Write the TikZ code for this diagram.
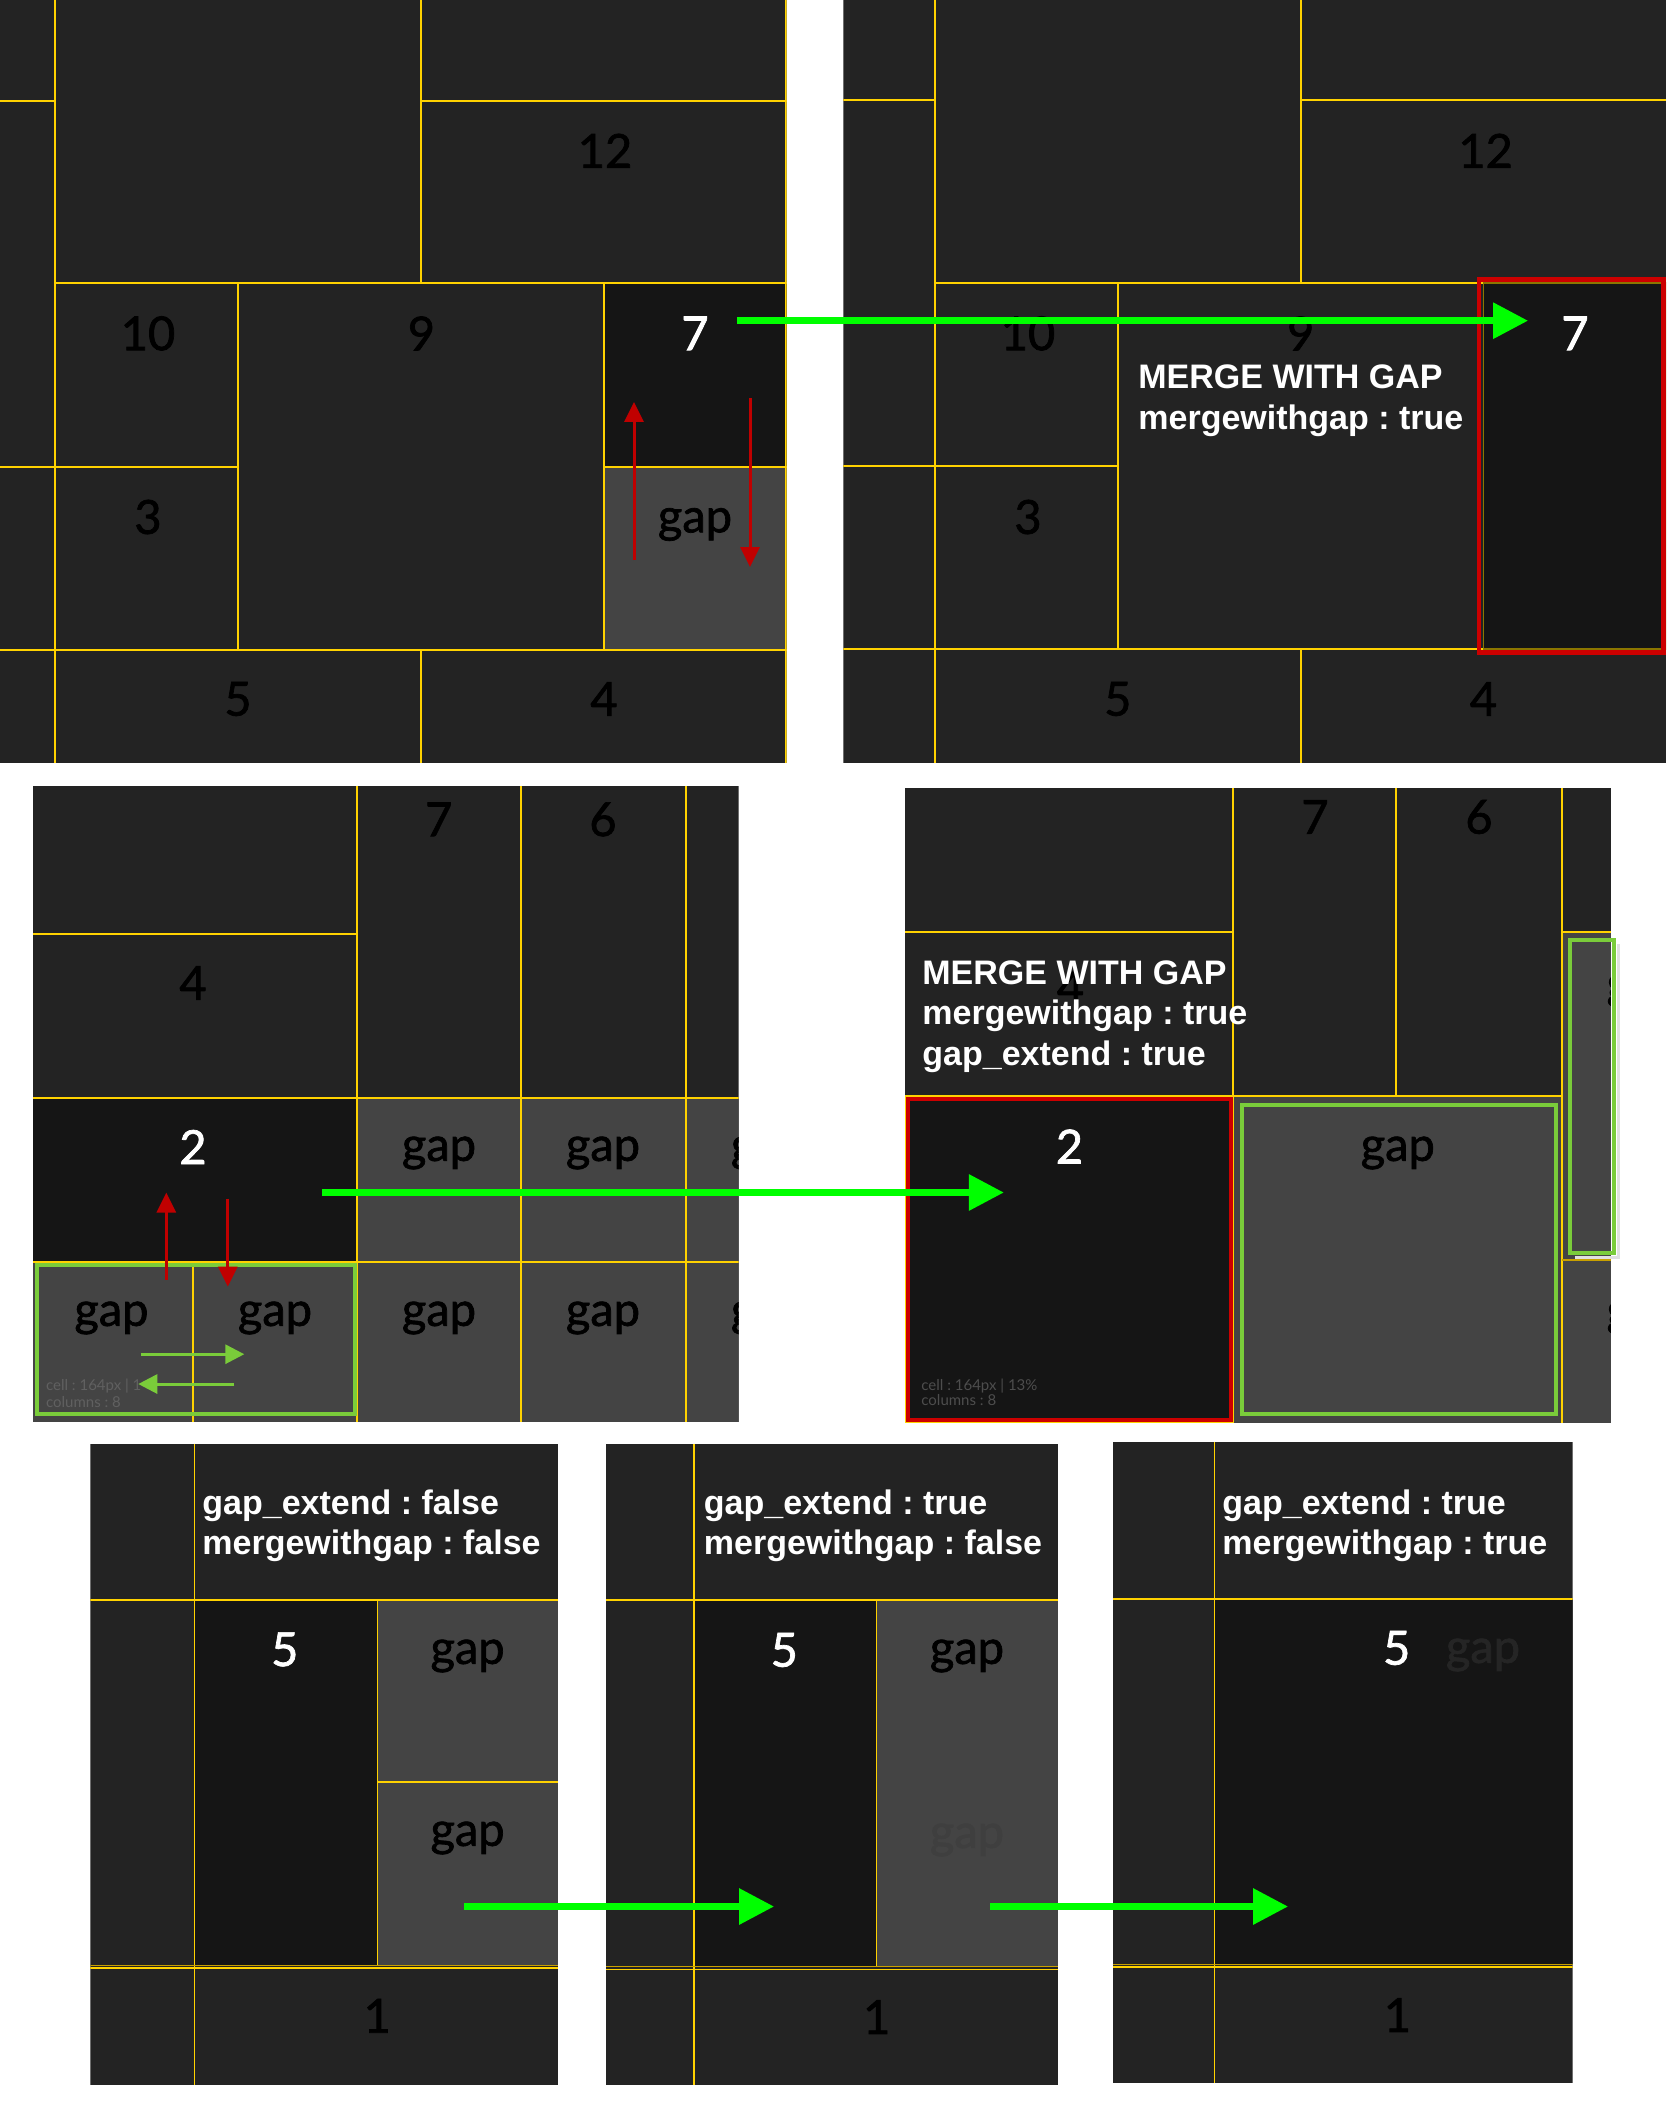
\documentclass[tikz,border=0pt]{standalone}
\usepackage{fontspec}
\newfontfamily\lato{Lato}[FakeBold=1.5]
\newfontfamily\latol{Lato}
\newfontfamily\lib{Liberation Sans}
\usetikzlibrary{arrows.meta}
\definecolor{bgd}{HTML}{232323}
\definecolor{sel}{HTML}{151515}
\definecolor{gapc}{HTML}{444444}
\definecolor{ylw}{HTML}{FFD200}
\definecolor{dimy}{HTML}{8C7600}
\definecolor{darky}{HTML}{C8A000}
\definecolor{arrgreen}{HTML}{00FF00}
\definecolor{boxgreen}{HTML}{7ACC3A}
\definecolor{arrred}{HTML}{C00000}
\definecolor{boxred}{HTML}{CC0000}
\frenchspacing
\begin{document}
\begin{tikzpicture}[x=0.5pt,y=-0.5pt,
  yl/.style={draw=ylw,line width=1pt},
  ylt/.style={draw=ylw,line width=0.65pt},
  num/.style={font=\lato\fontsize{23.5}{28}\selectfont,inner sep=0pt,text=black},
  wnum/.style={num,text=white},
  info/.style={font=\lib\bfseries\fontsize{17}{20}\selectfont,inner sep=0pt,text=white,anchor=base west},
  cinfo/.style={font=\latol\fontsize{7.5}{9}\selectfont,inner sep=0pt,anchor=base west},
  garrow/.style={draw=arrgreen,line width=3.25pt,-{Triangle[length=17.5pt,width=17.5pt]}},
  rarrow/.style={draw=arrred,line width=1.5pt,-{Triangle[length=10pt,width=9.5pt]}},
  larrow/.style={draw=boxgreen,line width=1.5pt,-{Triangle[length=9.5pt,width=9.5pt]}},
  gbox/.style={draw=boxgreen,line width=2pt},
  rbox/.style={draw=boxred,line width=2.25pt}]
\useasboundingbox (0,0) rectangle (1666,2118);
\fill[white] (0,0) rectangle (1666,2118);

% ---------------- Panel 1 ----------------
\begin{scope}
\clip (0,0) rectangle (786.7,763.4);
\fill[bgd] (0,0) rectangle (786.7,763.4);
\fill[sel] (604,283.4) rectangle (786.7,466.6);
\fill[gapc] (604,466.6) rectangle (786.7,649.8);
\draw[yl] (54.6,0) -- (54.6,763.4);
\draw[yl] (0,100.7) -- (54.6,100.7);
\draw[yl] (0,466.6) -- (54.6,466.6);
\draw[yl] (420.9,0) -- (420.9,283.4);
\draw[yl] (420.9,100.7) -- (786.7,100.7);
\draw[yl] (54.6,283.4) -- (786.7,283.4);
\draw[yl] (237.8,283.4) -- (237.8,649.8);
\draw[yl] (604,283.4) -- (604,649.8);
\draw[yl] (54.6,466.6) -- (237.8,466.6);
\draw[yl] (604,466.6) -- (786.7,466.6);
\draw[yl] (0,649.8) -- (786.7,649.8);
\draw[yl] (420.9,649.8) -- (420.9,763.4);
\draw[yl] (785.7,0) -- (785.7,763.4);
\node[num] (p1n12) at (605,150.8) {12};
\node[num] (p1n10) at (148,333.4) {10};
\node[num] (p1n9) at (421.4,333.4) {9};
\node[wnum] (p1n7) at (695,333.4) {7};
\node[num] (p1n3) at (148,517) {3};
\node[num] (p1gap) at (695,524.5) {gap};
\node[num] (p1n5) at (238,699) {5};
\node[num] (p1n4) at (604,699) {4};
\end{scope}
\coordinate (r1a) at (634,560);
\coordinate (r1b) at (634,402);
\coordinate (r1c) at (750,398);
\coordinate (r1d) at (750,567);
\draw[rarrow] (r1a) -- (r1b);
\draw[rarrow] (r1c) -- (r1d);

% ---------------- Panel 2 ----------------
\begin{scope}
\clip (843.3,0) rectangle (1666,763.4);
\fill[bgd] (843.3,0) rectangle (1666,763.4);
\fill[sel] (1483.5,283) rectangle (1666,648.8);
\draw[yl] (935,0) -- (935,763.4);
\draw[yl] (843.3,100.2) -- (935,100.2);
\draw[yl] (843.3,465.6) -- (935,465.6);
\draw[yl] (1300.7,0) -- (1300.7,283);
\draw[yl] (1300.7,100.2) -- (1666,100.2);
\draw[yl] (935,283) -- (1483.5,283);
\draw[yl] (1117.8,283) -- (1117.8,648.8);
\draw[yl] (935,465.6) -- (1117.8,465.6);
\draw[yl] (843.3,648.8) -- (1666,648.8);
\draw[yl] (1300.7,648.8) -- (1300.7,763.4);
\draw[dimy,line width=0.75pt] (1483.5,283) rectangle (1666,648.8);
\node[num] (p2n12) at (1485.6,150.8) {12};
\node[num] (p2n10) at (1028,333.4) {10};
\node[num] (p2n9) at (1300.7,333.4) {9};
\node[wnum] (p2n7) at (1575,333.4) {7};
\node[num] (p2n3) at (1028,517) {3};
\node[num] (p2n5) at (1117.8,699) {5};
\node[num] (p2n4) at (1483.5,699) {4};
\node[info] (p2t1) at (1138,389) {MERGE WITH GAP};
\node[info] (p2t2) at (1138,430) {mergewithgap : true};
\end{scope}
\draw[rbox] (1479,279.5) rectangle (1663.5,652.5);
\coordinate (g1s) at (737,320.7);
\coordinate (g1e) at (1528,320.7);
\draw[garrow] (g1s) -- (g1e);

% ---------------- Panel 3 ----------------
\begin{scope}
\clip (33,785.8) rectangle (738.7,1421.8);
\fill[bgd] (33,785.8) rectangle (738.7,1421.8);
\fill[sel] (33,1098) rectangle (356.8,1261.8);
\fill[gapc] (356.8,1098) rectangle (738.7,1421.8);
\fill[gapc] (33,1261.8) rectangle (356.8,1421.8);
\draw[yl] (356.8,785.8) -- (356.8,1421.8);
\draw[yl] (521,785.8) -- (521,1421.8);
\draw[yl] (686,785.8) -- (686,1421.8);
\draw[yl] (33,933.8) -- (356.8,933.8);
\draw[yl] (33,1098) -- (738.7,1098);
\draw[yl] (33,1261.8) -- (738.7,1261.8);
\draw[yl] (193,1261.8) -- (193,1421.8);
\node[num] (p3n7) at (438.7,819.4) {7};
\node[num] (p3n6) at (603,819.4) {6};
\node[num] (p3n4) at (193,983) {4};
\node[wnum] (p3n2) at (193,1147) {2};
\node[num] (p3g1) at (439,1153) {gap};
\node[num] (p3g2) at (603,1153) {gap};
\node[num] (p3g3) at (768,1153) {gap};
\node[num] (p3g4) at (111.5,1318) {gap};
\node[num] (p3g5) at (275,1318) {gap};
\node[num] (p3g6) at (439,1318) {gap};
\node[num] (p3g7) at (603,1318) {gap};
\node[num] (p3g8) at (768,1318) {gap};
\node[cinfo,text=gapc!85!white] (p3c1) at (45.7,1390.7) {cell : 164px | 1};
\node[cinfo,text=gapc!85!white] (p3c2) at (45.7,1407) {columns : 8};
\end{scope}
\draw[gbox] (37,1265) rectangle (354.8,1414.4);
\coordinate (r3a) at (166.3,1279.6);
\coordinate (r3b) at (166.3,1192.5);
\coordinate (r3c) at (227.8,1198.7);
\coordinate (r3d) at (227.8,1286.6);
\draw[rarrow] (r3a) -- (r3b);
\draw[rarrow] (r3c) -- (r3d);
\coordinate (l3a) at (140.6,1354.2);
\coordinate (l3b) at (244.3,1354.2);
\coordinate (l3c) at (234.3,1384);
\coordinate (l3d) at (138.3,1384);
\draw[larrow] (l3a) -- (l3b);
\draw[larrow] (l3c) -- (l3d);

% ---------------- Panel 4 ----------------
\begin{scope}
\clip (905,787.5) rectangle (1610.8,1422.6);
\fill[bgd] (905,787.5) rectangle (1610.8,1422.6);
\fill[sel] (905,1096) rectangle (1232.9,1422.6);
\fill[gapc] (1232.9,1096) rectangle (1561.7,1422.6);
\fill[gapc] (1561.7,931.7) rectangle (1610.8,1422.6);
\draw[yl] (1232.9,787.5) -- (1232.9,1422.6);
\draw[yl] (1396.3,787.5) -- (1396.3,1096);
\draw[yl] (1561.7,787.5) -- (1561.7,1422.6);
\draw[yl] (905,931.7) -- (1232.9,931.7);
\draw[yl] (1561.7,931.7) -- (1610.8,931.7);
\draw[yl] (905,1096) -- (1561.7,1096);
\draw[draw=darky,line width=1pt] (1561.7,1260) -- (1610.8,1260);
\draw[yl] (905.5,1096) -- (905.5,1422) -- (1232.9,1422);
\node[num] (p4n7) at (1315,817) {7};
\node[num] (p4n6) at (1479,817) {6};
\node[num] (p4n4) at (1070.5,987) {4};
\node[wnum] (p4n2) at (1069.5,1146.5) {2};
\node[num] (p4gap) at (1397.8,1153) {gap};
\node[num] (p4g2) at (1643.7,991) {gap};
\node[num] (p4g3) at (1643.7,1318) {gap};
\node[info] (p4t1) at (922,984) {MERGE WITH GAP};
\node[info] (p4t2) at (922,1024.6) {mergewithgap : true};
\node[info] (p4t3) at (922,1065) {gap\_extend : true};
\node[cinfo,text=white!24!sel] (p4c1) at (921,1390) {cell : 164px | 13\%};
\node[cinfo,text=white!24!sel] (p4c2) at (921,1405.7) {columns : 8};
\end{scope}
\draw[rbox] (908,1099) rectangle (1231,1420);
\draw[gbox] (1242,1105.4) rectangle (1555.7,1414.4);
\draw[black!12,line width=1.5pt] (1618.5,944) -- (1618.5,1257.5) -- (1575,1257.5);
\draw[gbox] (1570.3,940.3) rectangle (1614,1253);
\coordinate (g2s) at (322.3,1192.5);
\coordinate (g2e) at (1003.8,1192.5);
\draw[garrow] (g2s) -- (g2e);

% ---------------- Panel a ----------------
\begin{scope}
\clip (90.3,1444) rectangle (558,2084.7);
\fill[bgd] (90.3,1444) rectangle (558,2084.7);
\fill[sel] (194.5,1599.8) rectangle (377.3,1965.3);
\fill[gapc] (377.3,1599.8) rectangle (558,1965.3);
\draw[ylt] (194.5,1444) -- (194.5,2084.7);
\draw[ylt] (377.3,1599.8) -- (377.3,1965.3);
\draw[draw=ylw,line width=0.9pt] (90.3,1599.8) -- (558,1599.8);
\draw[draw=ylw,line width=1pt] (377.3,1782.3) -- (558,1782.3);
\draw[draw=darky,line width=0.6pt] (90.3,1965.3) -- (558,1965.3);
\draw[draw=ylw,line width=0.6pt] (90.3,1968) -- (558,1968);
\node[info] (pat1) at (202,1514) {gap\_extend : false};
\node[info] (pat2) at (202,1554) {mergewithgap : false};
\node[wnum] (pan5) at (284.8,1649.4) {5};
\node[num] (pag1) at (467.6,1656) {gap};
\node[num] (pag2) at (467.6,1838) {gap};
\node[num] (pan1) at (377.3,2015.8) {1};
\end{scope}

% ---------------- Panel b ----------------
\begin{scope}
\clip (606,1444) rectangle (1058,2085);
\fill[bgd] (606,1444) rectangle (1058,2085);
\fill[sel] (694,1600.2) rectangle (876.7,1966.7);
\fill[gapc] (876.7,1600.2) rectangle (1058,1966.7);
\draw[ylt] (694,1444) -- (694,2085);
\draw[ylt] (876.7,1600.2) -- (876.7,1966.7);
\draw[draw=ylw,line width=0.9pt] (606,1600.2) -- (1058,1600.2);
\draw[draw=darky,line width=0.6pt] (606,1966.7) -- (1058,1966.7);
\draw[draw=ylw,line width=0.6pt] (606,1969.2) -- (1058,1969.2);
\node[info] (pbt1) at (703.5,1514) {gap\_extend : true};
\node[info] (pbt2) at (703.5,1554) {mergewithgap : false};
\node[wnum] (pbn5) at (784.3,1650) {5};
\node[num] (pbg1) at (967,1656) {gap};
\node[num,text=gapc!93!black] (pbg2) at (967,1840) {gap};
\node[num] (pbn1) at (876.7,2017) {1};
\end{scope}

% ---------------- Panel c ----------------
\begin{scope}
\clip (1112.6,1441.8) rectangle (1572.7,2082.5);
\fill[bgd] (1112.6,1441.8) rectangle (1572.7,2082.5);
\fill[sel] (1214.5,1598.6) rectangle (1572.7,1964.4);
\draw[ylt] (1214.5,1441.8) -- (1214.5,2082.5);
\draw[draw=ylw,line width=0.9pt] (1112.6,1598.6) -- (1572.7,1598.6);
\draw[draw=darky,line width=0.6pt] (1112.6,1964.4) -- (1572.7,1964.4);
\draw[draw=ylw,line width=0.6pt] (1112.6,1966.9) -- (1572.7,1966.9);
\node[info] (pct1) at (1222,1514) {gap\_extend : true};
\node[info] (pct2) at (1222,1554) {mergewithgap : true};
\node[num,text=sel!93!white] (pcg1) at (1483,1655) {gap};
\node[wnum] (pcn5) at (1396.7,1648) {5};
\node[num] (pcn1) at (1397.5,2015) {1};
\end{scope}

\coordinate (g3s) at (464.4,1906.5);
\coordinate (g3e) at (774,1906.5);
\draw[garrow] (g3s) -- (g3e);
\coordinate (g4s) at (990.4,1906.5);
\coordinate (g4e) at (1288,1906.5);
\draw[garrow] (g4s) -- (g4e);
\end{tikzpicture}
\end{document}
